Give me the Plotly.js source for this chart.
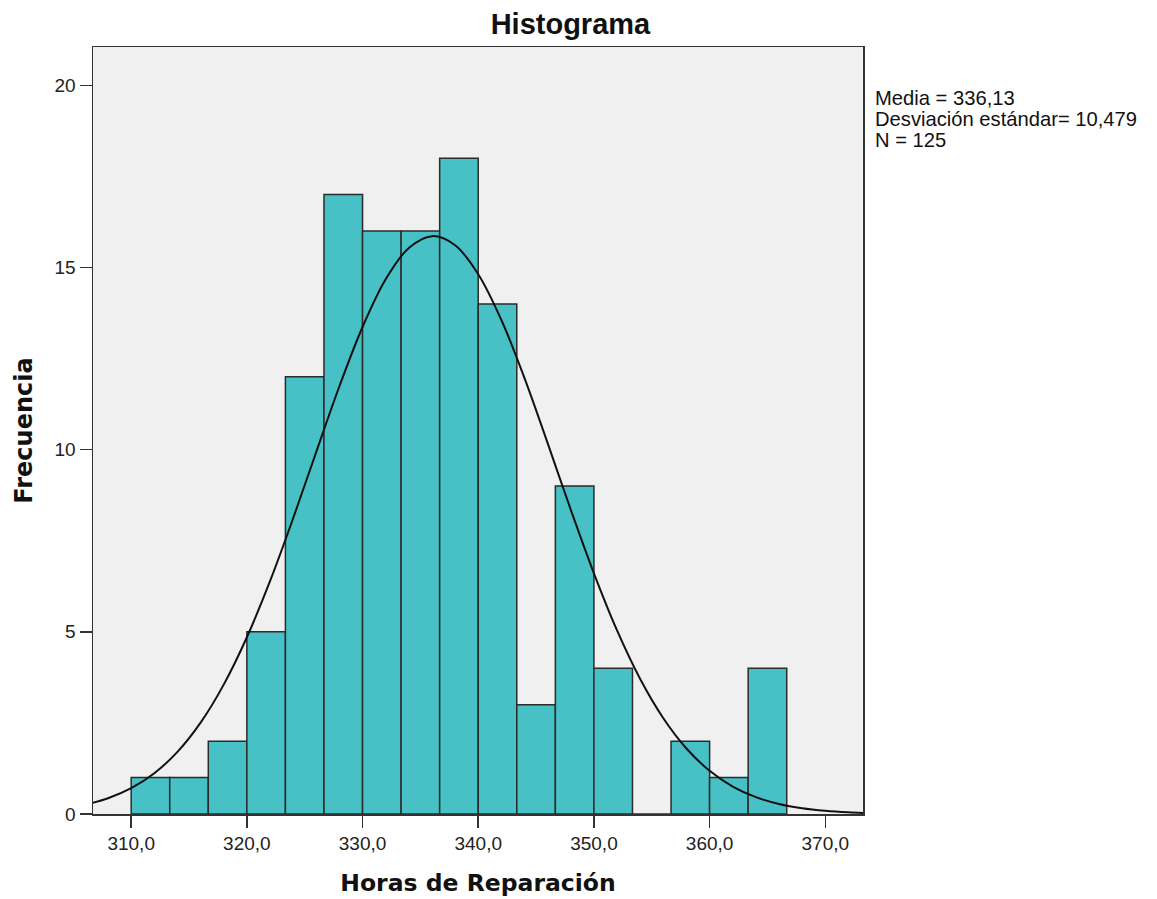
<!DOCTYPE html>
<html>
<head>
<meta charset="utf-8">
<script src="https://cdn.plot.ly/plotly-3.0.1.min.js"></script>
<style>html,body{margin:0;padding:0;background:#fff;}#chart{width:1157px;height:899px;}</style>
</head>
<body>
<div id="chart"></div>
<script>
// Histogram bins (lower edges) and counts
const binEdges = [310.0, 313.333, 316.667, 320.0, 323.333, 326.667, 330.0, 333.333, 336.667, 340.0, 343.333, 346.667, 350.0, 353.333, 356.667, 360.0, 363.333, 366.667];
const counts = [1, 1, 2, 5, 12, 17, 16, 16, 18, 14, 3, 9, 4, 0, 2, 1, 4];

// Fitted normal curve
const curveX = [306, 308, 310, 312, 314, 316, 318, 320, 322, 324, 326, 328, 330, 332, 334, 336, 338, 340, 342, 344, 346, 348, 350, 352, 354, 356, 358, 360, 362, 364, 366, 368, 370, 372, 374];
const curveY = [0.254, 0.432, 0.708, 1.119, 1.705, 2.507, 3.551, 4.851, 6.390, 8.116, 9.940, 11.739, 13.366, 14.675, 15.536, 15.859, 15.610, 14.814, 13.557, 11.963, 10.177, 8.350, 6.605, 5.038, 3.705, 2.628, 1.797, 1.185, 0.753, 0.462, 0.273, 0.155, 0.086, 0.045, 0.023];

const xTickVals = [310, 320, 330, 340, 350, 360, 370];
const xTickText = ["310,0", "320,0", "330,0", "340,0", "350,0", "360,0", "370,0"];
const yTickVals = [0, 5, 10, 15, 20];

const statsLines = ["Media = 336,13", "Desviación estándar= 10,479", "N = 125"];
const statsY = [0.9335, 0.9057, 0.8783];

const centers = [], widths = [];
for (let i = 0; i < counts.length; i++) {
  centers.push((binEdges[i] + binEdges[i + 1]) / 2);
  widths.push(binEdges[i + 1] - binEdges[i]);
}

const font = "Liberation Sans, Arial, sans-serif";
const boldWide = "DejaVu Sans, Verdana, sans-serif";

const traces = [
  {
    type: "bar",
    x: centers,
    y: counts,
    width: widths,
    marker: { color: "#47c1c6", line: { color: "#2b2b2b", width: 1.5 } },
    hoverinfo: "x+y",
    showlegend: false
  },
  {
    type: "scatter",
    mode: "lines",
    x: curveX,
    y: curveY,
    line: { color: "#111", width: 2, shape: "spline" },
    showlegend: false
  }
];

const layout = {
  width: 1157,
  height: 899,
  margin: { l: 92.5, r: 294.3, t: 47, b: 85, pad: 0 },
  paper_bgcolor: "#ffffff",
  plot_bgcolor: "#f0f0f0",
  font: { family: font, color: "#222", size: 19 },
  bargap: 0,
  title: {
    text: "<b>Histograma</b>",
    font: { family: font, size: 29, color: "#111" },
    x: 0.493, xanchor: "center", xref: "container",
    y: 0.973, yanchor: "middle", yref: "container"
  },
  xaxis: {
    range: [306.7, 373.26],
    tickvals: xTickVals,
    ticktext: xTickText,
    ticks: "outside",
    ticklen: 12,
    tickwidth: 1.5,
    tickcolor: "#333",
    showgrid: false,
    zeroline: false,
    showline: true,
    linecolor: "#333",
    linewidth: 1.5,
    mirror: true,
    tickfont: { family: font, size: 19, color: "#222" },
    title: { text: "<b>Horas de Reparación</b>", font: { family: boldWide, size: 23.5, color: "#111" }, standoff: 21 }
  },
  yaxis: {
    range: [0, 21.05],
    tickvals: yTickVals,
    ticks: "outside",
    ticklen: 12,
    tickwidth: 1.5,
    tickcolor: "#333",
    showgrid: false,
    zeroline: false,
    showline: true,
    linecolor: "#333",
    linewidth: 1.5,
    mirror: true,
    tickfont: { family: font, size: 19, color: "#222" },
    title: { text: "<b>Frecuencia</b>", font: { family: boldWide, size: 24, color: "#111" }, standoff: 15 }
  },
  annotations: statsLines.map((t, i) => ({
    xref: "paper", yref: "paper",
    x: 1.013, y: statsY[i],
    xanchor: "left", yanchor: "middle",
    align: "left",
    showarrow: false,
    text: t,
    font: { family: font, size: 20.2, color: "#111" }
  }))
};

Plotly.newPlot("chart", traces, layout, { displayModeBar: false, staticPlot: true });
</script>
</body>
</html>
